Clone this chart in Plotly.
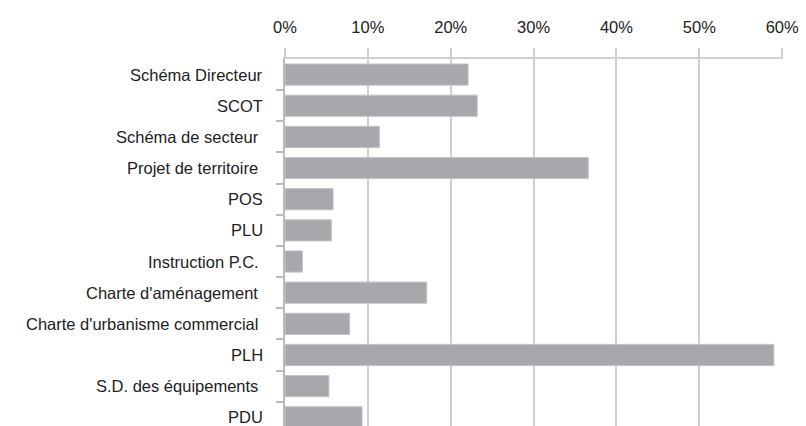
import plotly.graph_objects as go

# Share of respondents citing each planning document
categories = [
    "Schéma Directeur",
    "SCOT",
    "Schéma de secteur ",
    "Projet de territoire ",
    "POS",
    "PLU",
    "Instruction P.C. ",
    "Charte d'aménagement ",
    "Charte d'urbanisme commercial ",
    "PLH",
    "S.D. des équipements ",
    "PDU",
]
shares = [0.221, 0.232, 0.114, 0.366, 0.058, 0.056, 0.021, 0.171, 0.078, 0.590, 0.053, 0.093]
tick_values = [0, 0.1, 0.2, 0.3, 0.4, 0.5, 0.6]
tick_labels = ["0%", "10%", "20%", "30%", "40%", "50%", "60%"]

grid_col = "#cfd0d2"
text_col = "#222222"
font_family = "Liberation Sans, Arial, sans-serif"

fig = go.Figure(
    go.Bar(
        x=shares,
        y=list(range(len(categories))),
        orientation="h",
        width=0.68,
        marker=dict(color="#a6a8ab", line=dict(color="#c3c4c6", width=1)),
        hoverinfo="skip",
    )
)

fig.update_layout(
    width=806,
    height=426,
    margin=dict(l=285, r=23, t=59, b=0),
    paper_bgcolor="white",
    plot_bgcolor="white",
    showlegend=False,
    font=dict(family=font_family, size=16.5, color=text_col),
    bargap=0.3,
)

fig.update_xaxes(
    side="top",
    range=[0, 0.601],
    tickvals=tick_values,
    ticktext=tick_labels,
    showgrid=True,
    gridcolor=grid_col,
    gridwidth=1.5,
    showline=True,
    linecolor=grid_col,
    linewidth=1.5,
    ticks="outside",
    ticklen=9,
    tickwidth=1.5,
    tickcolor=grid_col,
    ticklabelstandoff=9,
    zeroline=False,
    tickfont=dict(size=16.5, color=text_col),
)

fig.update_yaxes(
    range=[11.28, -0.5],
    tickmode="array",
    tickvals=[i - 0.5 for i in range(1, len(categories))],
    ticktext=[""] * (len(categories) - 1),
    showgrid=False,
    showline=True,
    linecolor="#b9babc",
    linewidth=1.5,
    ticks="outside",
    ticklen=7,
    tickwidth=1.5,
    tickcolor="#b9babc",
    zeroline=False,
)

# Category labels, right-aligned beside the axis
for i, name in enumerate(categories):
    fig.add_annotation(
        x=0,
        y=i,
        xref="paper",
        yref="y",
        text=name,
        showarrow=False,
        xanchor="right",
        yanchor="middle",
        xshift=-20,
        font=dict(size=16.5, color=text_col, family=font_family),
    )

fig.write_html("out.html")
